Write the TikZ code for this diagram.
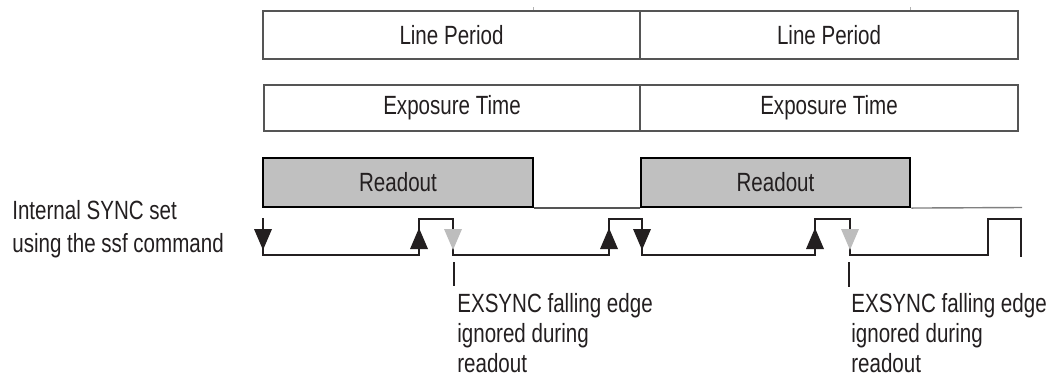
\documentclass[tikz,border=0pt]{standalone}
\usepackage{fontspec}
\setmainfont[FakeStretch=0.78]{Liberation Sans}
\usepackage{xcolor}
\definecolor{ink}{HTML}{231F20}
\definecolor{boxline}{HTML}{555555}
\definecolor{readfill}{HTML}{C0C0C0}
\definecolor{ignored}{HTML}{BDBDBD}
\newcommand{\dntri}[2]{\fill[#2] (#1-9,229) -- (#1+9,229) -- (#1,250) -- cycle;}
\newcommand{\uptri}[2]{\fill[#2] (#1-9,249) -- (#1+9,249) -- (#1,228) -- cycle;}
\tikzset{
  txt/.style={text=ink, font=\fontsize{15}{17}\selectfont},
  period/.style={draw=boxline, line width=1.1pt, txt, inner sep=0pt, minimum height=0.96cm},
  expo/.style={draw=boxline, line width=1.1pt, txt, inner sep=0pt, minimum height=0.92cm},
  readout/.style={draw=black, line width=1.2pt, fill=readfill, txt, inner sep=0pt, minimum height=0.98cm, minimum width=5.39cm},
  sig/.style={draw=ink, line width=0.8pt},
  note/.style={txt, align=left, anchor=north west, inner sep=0pt}
}
\begin{document}
\begin{tikzpicture}[x=0.02cm, y=-0.02cm]
\useasboundingbox (0,0) rectangle (1049,383);
% line period and exposure time
\node[period, minimum width=7.54cm] (lp1) at (451.5,35) {Line Period};
\node[period, minimum width=7.56cm] (lp2) at (829,35) {Line Period};
\node[expo, minimum width=7.52cm] (ex1) at (452,108) {Exposure Time};
\node[expo, minimum width=7.56cm] (ex2) at (829,108) {Exposure Time};
\draw[gray!60, line width=0.4pt] (533,7)--(533,10);
\draw[gray!60, line width=0.4pt] (910,7)--(910,10);
% readout
\node[readout] (ro1) at (398,182.5) {Readout};
\node[readout] (ro2) at (775.5,182.5) {Readout};
\draw[boxline, line width=0.8pt] (ro1.south east) -- (ro2.south west);
\draw[gray, line width=0.8pt] (ro2.south east) -- (1022,207.5);
% internal sync
\node[txt, align=left, anchor=west, inner sep=0pt] (isync) at (12,229) {Internal SYNC set\\[1.5pt]using the ssf command};
\draw[sig] (263,218) -- (263,255) -- (419,255) -- (419,219) -- (453,219) -- (453,255)
  -- (609,255) -- (609,219) -- (642,219) -- (642,255) -- (815,255) -- (815,219)
  -- (850,219) -- (850,255) -- (988,255) -- (988,219) -- (1021,219) -- (1021,257);
\dntri{263}{ink}
\uptri{419}{ink}
\dntri{453}{ignored}
\uptri{609}{ink}
\dntri{642}{ink}
\uptri{815}{ink}
\dntri{850}{ignored}
% ignored edges
\node[note] (ign1) at (457,293) {EXSYNC falling edge\\ignored during\\readout};
\node[note] (ign2) at (851,293) {EXSYNC falling edge\\ignored during\\readout};
\draw[ink, line width=0.7pt] (454,262) -- (454,286);
\draw[ink, line width=0.7pt] (849,262) -- (849,287);
\end{tikzpicture}
\end{document}
